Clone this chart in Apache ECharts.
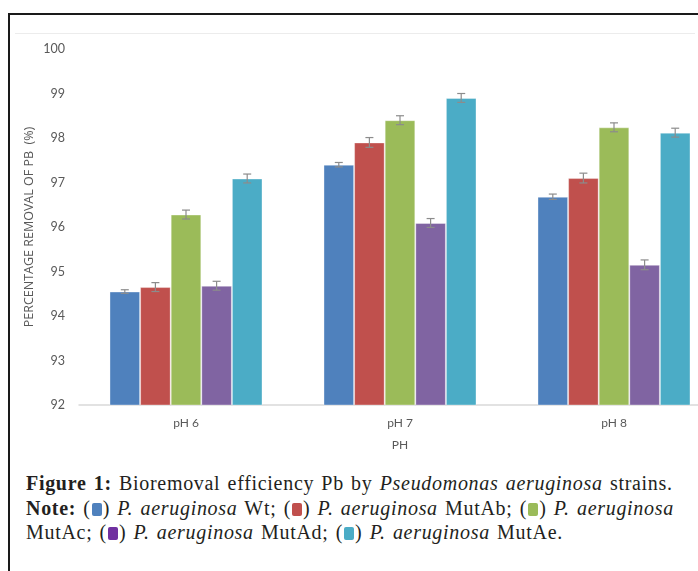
<!DOCTYPE html>
<html>
<head>
<meta charset="utf-8">
<script src="https://cdn.jsdelivr.net/npm/echarts@6/dist/echarts.min.js"></script>
<style>
html, body { margin: 0; padding: 0; background: #fff; overflow: hidden; width: 698px; height: 571px; }
.frame-top { position: absolute; left: 8px; top: 13px; width: 700px; height: 2px; background: #1a1a1a; }
.frame-left { position: absolute; left: 8px; top: 13px; width: 2px; height: 600px; background: #1a1a1a; }
.chart-top { position: absolute; left: 15px; top: 33px; width: 680px; height: 1px; background: #ececec; }
#main { position: absolute; left: 0; top: 0; width: 740px; height: 470px; }
.caption { position: absolute; left: 26px; top: 471px; font-family: "Liberation Serif", "DejaVu Serif", serif; font-size: 20px; letter-spacing: 0.7px; word-spacing: 1.5px; line-height: 24.5px; color: #231f20; white-space: nowrap; }
.caption b { font-weight: bold; }
.sq { display: inline-block; width: 10px; height: 13px; border-radius: 2px; vertical-align: -1px; margin: 0 1px; }
</style>
</head>
<body>
<div class="frame-top"></div>
<div class="frame-left"></div>
<div class="chart-top"></div>
<div id="main"></div>
<div class="caption">
  <b>Figure 1:</b> Bioremoval efficiency Pb by <i>Pseudomonas aeruginosa</i> strains.<br>
  <b>Note:</b> (<span class="sq" style="background:#4f81bd"></span>) <i>P. aeruginosa</i> Wt; (<span class="sq" style="background:#c0504d"></span>) <i>P. aeruginosa</i> MutAb; (<span class="sq" style="background:#9bbb59"></span>) <i>P. aeruginosa</i><br>
  MutAc; (<span class="sq" style="background:#7030a0"></span>) <i>P. aeruginosa</i> MutAd; (<span class="sq" style="background:#4bacc6"></span>) <i>P. aeruginosa</i> MutAe.
</div>
<script>
// 数据
var categories = ['pH 6', 'pH 7', 'pH 8'];
var seriesNames = ['P. aeruginosa Wt', 'P. aeruginosa MutAb', 'P. aeruginosa MutAc', 'P. aeruginosa MutAd', 'P. aeruginosa MutAe'];
var colors = ['#4f81bd', '#c0504d', '#9bbb59', '#8064a2', '#4bacc6'];
var wtValues = [94.55, 97.40, 96.68];
var mutAbValues = [94.65, 97.90, 97.10];
var mutAcValues = [96.28, 98.40, 98.24];
var mutAdValues = [94.68, 96.09, 95.15];
var mutAeValues = [97.09, 98.90, 98.12];
var wtErr = [0.04, 0.05, 0.06];
var mutAbErr = [0.10, 0.11, 0.11];
var mutAcErr = [0.10, 0.10, 0.10];
var mutAdErr = [0.10, 0.10, 0.11];
var mutAeErr = [0.10, 0.10, 0.10];

var allValues = [wtValues, mutAbValues, mutAcValues, mutAdValues, mutAeValues];
var allErr = [wtErr, mutAbErr, mutAcErr, mutAdErr, mutAeErr];
var catGap = 0.285;

var myChart = echarts.init(document.getElementById('main'));

var series = [];
allValues.forEach(function (vals, i) {
  series.push({
    name: seriesNames[i],
    type: 'bar',
    data: vals,
    barGap: 0,
    barCategoryGap: (catGap * 100) + '%',
    itemStyle: { color: colors[i], borderColor: 'rgba(255,255,255,0.35)', borderWidth: 1 }
  });
});
// 误差线
allValues.forEach(function (vals, i) {
  series.push({
    type: 'custom',
    silent: true,
    z: 5,
    data: vals.map(function (v, j) { return [j, v - allErr[i][j], v + allErr[i][j]]; }),
    renderItem: function (params, api) {
      var bw = api.size([1, 0])[0] * (1 - catGap) / 5;
      var lo = api.coord([api.value(0), api.value(1)]);
      var hi = api.coord([api.value(0), api.value(2)]);
      var x = lo[0] + (i - 2) * bw;
      var cap = 4;
      var st = { stroke: '#8c8c8c', lineWidth: 1.2 };
      return {
        type: 'group',
        children: [
          { type: 'line', shape: { x1: x, y1: lo[1], x2: x, y2: hi[1] }, style: st },
          { type: 'line', shape: { x1: x - cap, y1: lo[1], x2: x + cap, y2: lo[1] }, style: st },
          { type: 'line', shape: { x1: x - cap, y1: hi[1], x2: x + cap, y2: hi[1] }, style: st }
        ]
      };
    }
  });
});

var option = {
  animation: false,
  grid: { left: 79, right: 19, top: 49, bottom: 65 },
  xAxis: {
    type: 'category',
    data: categories,
    name: 'PH',
    nameLocation: 'middle',
    nameGap: 34,
    nameTextStyle: { color: '#595959', fontSize: 12, fontFamily: 'Lato' },
    axisLine: { lineStyle: { color: '#d9d9d9', width: 1.5 } },
    axisTick: { show: false },
    axisLabel: { color: '#595959', fontSize: 12, fontFamily: 'Lato', margin: 12 }
  },
  yAxis: {
    type: 'value',
    min: 92,
    max: 100,
    interval: 1,
    name: 'PERCENTAGE REMOVAL OF PB  (%)',
    nameLocation: 'middle',
    nameGap: 43,
    nameMoveOverlap: false,
    nameTextStyle: { color: '#595959', fontSize: 12.5, fontFamily: 'Open Sans' },
    axisLine: { show: false },
    axisTick: { show: false },
    splitLine: { show: false },
    axisLabel: { color: '#595959', fontSize: 12.5, fontFamily: 'Lato', margin: 14 }
  },
  series: series
};

myChart.setOption(option);
</script>
</body>
</html>
